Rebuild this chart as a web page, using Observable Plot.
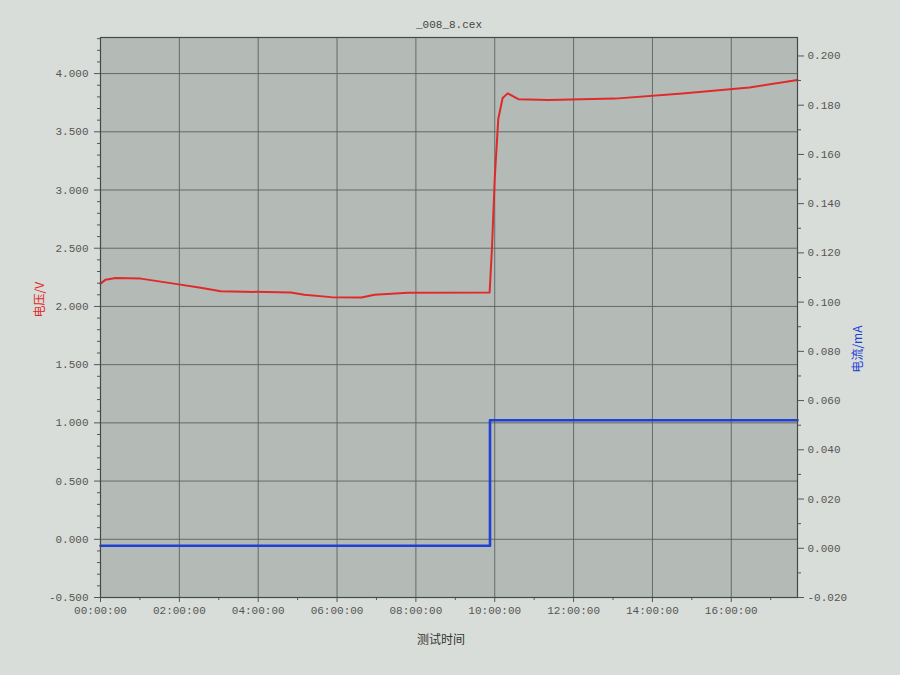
<!DOCTYPE html>
<html>
<head>
<meta charset="utf-8">
<script src="https://cdn.jsdelivr.net/npm/d3@7"></script>
<script src="https://cdn.jsdelivr.net/npm/@observablehq/plot@0.6"></script>
<style>
  html, body { margin: 0; padding: 0; background: #d9ddd9; }
  #chart { width: 900px; height: 675px; }
</style>
</head>
<body>
<div id="chart"></div>
<script>
// ---- text ----
const title = "_008_8.cex";
const xLabel = "测试时间";
const leftLabel = "电压/V";
const rightLabel = "电流/mA";

// ---- ticks ----
const timeTicks = [0, 2, 4, 6, 8, 10, 12, 14, 16];
const timeMinorTicks = [1, 3, 5, 7, 9, 11, 13, 15, 17];
const voltageTicks = [-0.5, 0, 0.5, 1.0, 1.5, 2.0, 2.5, 3.0, 3.5, 4.0];
const currentTicks = [-0.02, 0, 0.02, 0.04, 0.06, 0.08, 0.10, 0.12, 0.14, 0.16, 0.18, 0.20];

// ---- series: voltage (V) vs. elapsed hours ----
const voltageHours  = [0, 0.13, 0.38, 1.02, 1.86, 2.54, 3.05, 4.83, 5.17, 5.85, 6.62, 6.95, 7.8, 9.87, 9.93, 10.0, 10.09, 10.2, 10.33, 10.6, 11.36, 13.05, 14.76, 16.46, 17.68];
const voltageValues = [2.196, 2.23, 2.244, 2.239, 2.196, 2.16, 2.13, 2.12, 2.10, 2.08, 2.077, 2.10, 2.117, 2.12, 2.5, 3.1, 3.61, 3.79, 3.83, 3.78, 3.774, 3.785, 3.83, 3.88, 3.945];

// ---- series: current (mA) vs. elapsed hours ----
const currentHours  = [0, 9.88, 9.88, 17.68];
const currentValues = [0.001, 0.001, 0.052, 0.052];

// ---- scales ----
const xDomain = [0, 17.68];
const vDomain = [-0.5, 4.31];
const cDomain = [-0.02, 0.2075];
const toV = c => vDomain[0] + (c - cDomain[0]) / (cDomain[1] - cDomain[0]) * (vDomain[1] - vDomain[0]);
const fromV = v => cDomain[0] + (v - vDomain[0]) / (vDomain[1] - vDomain[0]) * (cDomain[1] - cDomain[0]);
const fmt3 = v => d3.format(".3f")(v).replace("\u2212", "-");
const fmtTime = h => String(h).padStart(2, "0") + ":00:00";

const voltageData = voltageHours.map((h, i) => ({h, v: voltageValues[i]}));
const currentData = currentHours.map((h, i) => ({h, c: currentValues[i]}));

const vMinor = d3.range(-5, 44).map(k => k / 10).filter(v => Math.abs(v * 2 - Math.round(v * 2)) > 1e-6);
const cMinor = d3.range(-2, 21).map(k => k / 100).filter(c => Math.abs(c * 50 - Math.round(c * 50)) > 1e-6);

const cjk = "'Noto Sans CJK SC', sans-serif";
const mono = "'Liberation Mono', 'DejaVu Sans Mono', monospace";

const chart = Plot.plot({
  width: 900,
  height: 675,
  marginLeft: 100,
  marginRight: 103,
  marginTop: 37,
  marginBottom: 78,
  style: {fontFamily: mono, fontSize: "11px", background: "transparent", color: "#555"},
  x: {domain: xDomain},
  y: {domain: vDomain},
  marks: [
    Plot.frame({fill: "#b4bbb7", stroke: null}),
    Plot.gridX(timeTicks, {stroke: "#5b625e", strokeOpacity: 0.9, strokeWidth: 1}),
    Plot.gridY(voltageTicks, {stroke: "#5b625e", strokeOpacity: 0.9, strokeWidth: 1}),
    // left axis
    Plot.axisY(voltageTicks, {anchor: "left", tickFormat: fmt3, tickSize: 6, tickPadding: 6, label: null, color: "#555"}),
    Plot.axisY(vMinor, {anchor: "left", tickFormat: () => "", tickSize: 3, label: null, color: "#555"}),
    // right axis (current, mapped onto voltage scale)
    Plot.axisY(currentTicks.map(toV), {anchor: "right", tickFormat: v => fmt3(fromV(v)), tickSize: 6, tickPadding: 4, label: null, color: "#555"}),
    Plot.axisY(cMinor.map(toV), {anchor: "right", tickFormat: () => "", tickSize: 3, label: null, color: "#555"}),
    // bottom axis
    Plot.axisX(timeTicks, {anchor: "bottom", tickFormat: fmtTime, tickSize: 5, tickPadding: 4, label: null, color: "#555"}),
    Plot.axisX(timeMinorTicks, {anchor: "bottom", tickFormat: () => "", tickSize: 3, label: null, color: "#555"}),
    // series
    Plot.line(currentData, {x: "h", y: d => toV(d.c), stroke: "#1f3fd6", strokeWidth: 2.6}),
    Plot.line(voltageData, {x: "h", y: "v", stroke: "#e02a2a", strokeWidth: 2}),
    Plot.frame({stroke: "#444a47", strokeWidth: 1.2}),
    // texts
    Plot.text([title], {frameAnchor: "top", dy: -17, fill: "#444", fontSize: 11, fontFamily: mono}),
    Plot.text([xLabel], {frameAnchor: "bottom", dy: 46, dx: -8, fill: "#333", fontSize: 12, fontFamily: cjk}),
    Plot.text([leftLabel], {frameAnchor: "left", dx: -60, rotate: -90, fill: "#e02a2a", fontSize: 12, fontFamily: cjk}),
    Plot.text([rightLabel], {frameAnchor: "right", dx: 61, dy: 8, rotate: -90, fill: "#1f3fd6", fontSize: 12, fontFamily: cjk})
  ]
});
document.getElementById("chart").appendChild(chart);
</script>
</body>
</html>
